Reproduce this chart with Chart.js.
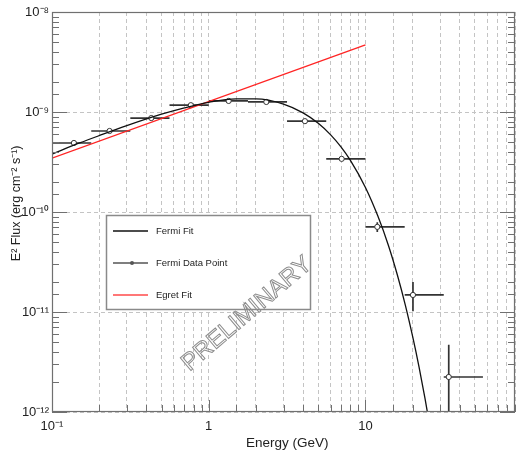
<!DOCTYPE html>
<html lang="en">
<head>
<meta charset="UTF-8">
<title>Fermi / EGRET spectrum</title>
<script src="https://cdn.jsdelivr.net/npm/chart.js"></script>
<style>
    html, body { margin: 0; padding: 0; background: #fff; overflow: hidden; }
    canvas { display: block; }
</style>
</head>
<body>
<canvas id="sed" width="522" height="454"></canvas>
<script>
// Fermi data points: energy (GeV) and E^2 flux (erg cm^-2 s^-1)
const pointE = [0.138, 0.233, 0.43, 0.769, 1.34, 2.33, 4.11, 7.05, 11.9, 20.1, 34.0];
const pointF = [4.9e-10, 6.46e-10, 8.7e-10, 1.17e-9, 1.29e-9, 1.26e-9, 8.1e-10, 3.4e-10, 7.1e-11, 1.48e-11, 2.24e-12];
// energy bins (horizontal bars)
const binLo = [0.1, 0.178, 0.316, 0.562, 1, 1.78, 3.16, 5.62, 10, 17.8, 31.6];
const binHi = [0.178, 0.316, 0.562, 1, 1.78, 3.16, 5.62, 10, 17.8, 31.6, 56.2];
// flux errors, null where hidden by the marker
const fluxLo = [null, null, null, null, null, null, null, null, 6.3e-11, 1.02e-11, 5e-13];
const fluxHi = [null, null, null, null, null, null, null, null, 7.9e-11, 2.0e-11, 4.7e-12];

// Fermi fit curve
const fitE = [0.1, 0.15, 0.2, 0.3, 0.5, 0.7, 1, 1.5, 2, 3, 4, 5, 6, 7, 8, 10, 12, 14, 16, 18, 20, 22, 24, 26];
const fitF = [3.8e-10, 4.9e-10, 5.8e-10, 7.3e-10, 9.5e-10, 1.10e-9, 1.25e-9, 1.35e-9, 1.35e-9, 1.20e-9, 9.8e-10,
              7.7e-10, 5.9e-10, 4.45e-10, 3.3e-10, 1.76e-10, 9.1e-11, 4.65e-11, 2.33e-11, 1.16e-11, 5.7e-12,
              2.8e-12, 1.36e-12, 6.6e-13];

// EGRET fit (power law)
const egretE = [0.1, 10];
const egretF = [3.45e-10, 4.7e-9];

const legendOrder = [0, 2, 1];
const FONT = "'Liberation Sans', Arial, sans-serif";
const SUP = { '-': '\u207B', '0': '\u2070', '1': '\u00B9', '2': '\u00B2', '3': '\u00B3',
              '4': '\u2074', '5': '\u2075', '6': '\u2076', '7': '\u2077', '8': '\u2078', '9': '\u2079' };

function isDecade(v) {
    const l = Math.log10(v);
    return Math.abs(l - Math.round(l)) < 1e-6;
}
function powLabel(v) {
    if (!isDecade(v)) return '';
    const e = Math.round(Math.log10(v));
    if (e === 0) return '1';
    if (e === 1) return '10';
    return '10' + String(e).split('').map(ch => SUP[ch]).join('');
}

const errorBars = {
    id: 'errorBars',
    beforeDatasetsDraw(chart) {
        const { ctx: c, scales: { x, y }, chartArea: a } = chart;
        c.save();
        c.beginPath();
        c.rect(a.left, a.top, a.width, a.height);
        c.clip();
        c.strokeStyle = '#333';
        c.lineWidth = 1.7;
        pointE.forEach((e, i) => {
            const py = y.getPixelForValue(pointF[i]);
            c.beginPath();
            c.moveTo(x.getPixelForValue(binLo[i]), py);
            c.lineTo(x.getPixelForValue(binHi[i]), py);
            if (fluxLo[i] !== null) {
                const px = x.getPixelForValue(e);
                c.moveTo(px, y.getPixelForValue(fluxLo[i]));
                c.lineTo(px, y.getPixelForValue(fluxHi[i]));
            }
            c.stroke();
        });
        c.restore();
    }
};

const decor = {
    id: 'decor',
    afterDatasetsDraw(chart) {
        const { ctx: c, scales: { x, y }, chartArea: a } = chart;
        c.save();
        // inward tick marks
        c.strokeStyle = '#707070';
        c.lineWidth = 1;
        c.beginPath();
        x.ticks.forEach(t => {
            const px = Math.round(x.getPixelForValue(t.value)) + 0.5;
            const len = isDecade(t.value) ? 12 : 7;
            c.moveTo(px, a.bottom);
            c.lineTo(px, a.bottom - len);
        });
        y.ticks.forEach(t => {
            const py = Math.round(y.getPixelForValue(t.value)) + 0.5;
            const len = isDecade(t.value) ? 15 : 7;
            c.moveTo(a.left, py);
            c.lineTo(a.left + len, py);
            c.moveTo(a.right, py);
            c.lineTo(a.right - len, py);
        });
        c.stroke();
        // frame
        c.lineWidth = 1.2;
        c.strokeRect(a.left + 0.5, a.top + 0.5, a.width - 1, a.height - 1);

        // legend box
        const bx = a.left + 54, by = a.top + 203, bw = 204, bh = 94;
        c.fillStyle = '#fff';
        c.fillRect(bx, by, bw, bh);
        c.strokeStyle = '#8a8a8a';
        c.lineWidth = 1.5;
        c.strokeRect(bx + 0.5, by + 0.5, bw, bh);
        c.font = '9.5px ' + FONT;
        c.textBaseline = 'middle';
        c.textAlign = 'left';
        legendOrder.forEach((di, row) => {
            const ds = chart.data.datasets[di];
            const ly = by + 16 + row * 32;
            c.strokeStyle = ds.legendColor;
            c.lineWidth = 1.4;
            c.beginPath();
            c.moveTo(bx + 7, ly);
            c.lineTo(bx + 42, ly);
            c.stroke();
            if (ds.showLine === false) {
                c.fillStyle = '#555';
                c.beginPath();
                c.arc(bx + 26, ly, 2, 0, Math.PI * 2);
                c.fill();
            }
            c.fillStyle = '#222';
            c.fillText(ds.label, bx + 50, ly);
        });

        // watermark
        c.translate(a.left + 195, a.top + 302);
        c.rotate(-40.4 * Math.PI / 180);
        c.font = '24px ' + FONT;
        c.textAlign = 'center';
        c.strokeStyle = '#8c8c8c';
        c.lineWidth = 1;
        c.strokeText('PRELIMINARY', 0, 0);
        c.restore();
    }
};

const gridColor = '#c4c4c4';

new Chart(document.getElementById('sed'), {
    type: 'line',
    data: {
        datasets: [
            {
                label: 'Fermi Fit',
                data: fitE.map((e, i) => ({ x: e, y: fitF[i] })),
                borderColor: '#111',
                legendColor: '#111',
                borderWidth: 1.3,
                pointRadius: 0,
                cubicInterpolationMode: 'monotone'
            },
            {
                label: 'Egret Fit',
                data: egretE.map((e, i) => ({ x: e, y: egretF[i] })),
                borderColor: '#ff2424',
                legendColor: '#ff4a4a',
                borderWidth: 1.3,
                pointRadius: 0
            },
            {
                label: 'Fermi Data Point',
                data: pointE.map((e, i) => ({ x: e, y: pointF[i] })),
                showLine: false,
                legendColor: '#555',
                pointRadius: 2.6,
                pointBackgroundColor: '#fff',
                pointBorderColor: '#333',
                pointBorderWidth: 1
            }
        ]
    },
    options: {
        responsive: false,
        animation: false,
        layout: { padding: { top: 12, right: 3, left: 0, bottom: 0 } },
        plugins: {
            legend: { display: false },
            tooltip: { enabled: false }
        },
        scales: {
            x: {
                type: 'logarithmic',
                min: 0.1,
                max: 90,
                grid: { color: gridColor, lineWidth: 1, drawTicks: false },
                border: { display: false, dash: [4, 3] },
                ticks: {
                    autoSkip: false,
                    maxRotation: 0,
                    padding: 7,
                    color: '#222',
                    font: { family: FONT, size: 13 },
                    callback: v => powLabel(v)
                },
                title: {
                    display: true,
                    text: '\u00A0\u00A0Energy (GeV)',
                    color: '#222',
                    font: { family: FONT, size: 13.5 },
                    padding: { top: 0, bottom: 3 }
                },
                afterFit: s => { s.height = 42; }
            },
            y: {
                type: 'logarithmic',
                min: 1e-12,
                max: 1e-8,
                grid: {
                    color: c => (c.tick && isDecade(c.tick.value)) ? gridColor : 'rgba(0,0,0,0)',
                    lineWidth: 1,
                    drawTicks: false
                },
                border: { display: false, dash: [4, 3] },
                ticks: {
                    autoSkip: false,
                    padding: 3,
                    color: '#222',
                    font: { family: FONT, size: 13 },
                    callback: v => powLabel(v)
                },
                title: {
                    display: true,
                    text: '\u00A0\u00A0\u00A0\u00A0\u00A0E\u00B2 Flux (erg cm\u207B\u00B2 s\u207B\u00B9)',
                    color: '#222',
                    font: { family: FONT, size: 12.5 },
                    padding: { top: 9, bottom: 0 }
                },
                afterFit: s => { s.width = 52; }
            }
        }
    },
    plugins: [errorBars, decor]
});
</script>
</body>
</html>
